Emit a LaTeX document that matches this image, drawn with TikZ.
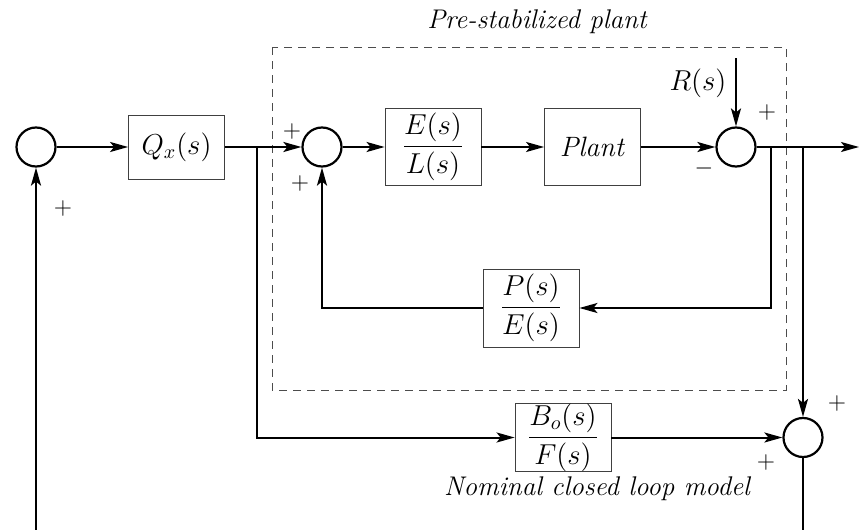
\documentclass[tikz,border=0pt]{standalone}
\usepackage{amsmath}
\usepackage{tikz}
\usetikzlibrary{arrows.meta, positioning, calc}

\begin{document}
\begin{tikzpicture}[
  x=0.5pt, y=-0.5pt,
  font=\fontsize{14}{17}\selectfont,
  box/.style={draw=black!75, minimum width=48pt, align=center, inner sep=1pt},
  sumnode/.style={draw, circle, line width=1.1pt, minimum size=19.5pt, inner sep=0pt},
  arrow/.style={-{Stealth[length=9pt, width=5pt, inset=2pt]}, line width=1pt},
  frame/.style={draw=black!70, dashed, dash pattern=on 4pt off 3pt, line width=0.5pt},
  title/.style={font=\fontsize{13.5}{16}\selectfont\itshape},
  sign/.style={inner sep=0pt, font=\fontsize{13}{15}\selectfont}
]
  \useasboundingbox (0,0) rectangle (859,530);

  % pre-stabilized plant frame
  \draw[frame] (272,47) rectangle (786,390);
  \node[title] (pretitle) at (537,22) {Pre-stabilized plant};

  \node[sumnode] (sumin) at (36,147) {};
  \node[box, minimum height=32pt] (qx) at (176.5,147) {$Q_x(s)$};
  \node[sumnode] (suminner) at (322,147) {};
  \node[box, minimum height=38.5pt] (el) at (433,147) {$\dfrac{E(s)}{L(s)}$};
  \node[box, minimum height=38.5pt] (plant) at (592.5,147) {\textit{Plant}};
  \node[sumnode] (sumdist) at (736,147) {};
  \node[box, minimum height=39pt] (pe) at (531,308) {$\dfrac{P(s)}{E(s)}$};
  \node[sumnode] (sumout) at (803,437.5) {};
  \node[box, minimum height=32.5pt, inner sep=0pt] (bf) at (563,437.5) {$\dfrac{B_o(s)}{F(s)}$};
  \node[title] (nomtitle) at (597,489) {Nominal closed loop model};

  % free ends of connectors
  \coordinate (rin) at (736,58);
  \coordinate (yout) at (859,147);
  \coordinate (fbtap) at (771,147);
  \coordinate (ytap) at (803,147);
  \coordinate (qtap) at (257,147);
  \coordinate (yend) at (803,530);
  \coordinate (fbend) at (36,530);

  \draw[arrow] (sumin) -- (qx);
  \draw[arrow] (qx) -- (suminner);
  \draw[arrow] (suminner) -- (el);
  \draw[arrow] (el) -- (plant);
  \draw[arrow] (plant) -- (sumdist);
  \draw[arrow] (rin) -- (sumdist);
  \draw[arrow] (sumdist) -- (yout);
  \draw[arrow] (fbtap) |- (pe);
  \draw[arrow] (pe) -| (suminner);
  \draw[arrow] (ytap) -- (sumout);
  \draw[arrow] (qtap) |- (bf);
  \draw[arrow] (bf) -- (sumout);
  \draw[line width=1pt] (sumout) -- (yend);
  \draw[arrow] (fbend) -- (sumin);

  % labels
  \node (rlabel) at (698,83) {$R(s)$};
  \node[sign] (p1) at (63,208) {$+$};
  \node[sign] (p2) at (292,131) {$+$};
  \node[sign] (p3) at (300,183) {$+$};
  \node[sign] (p4) at (767,113) {$+$};
  \node[sign] (m1) at (704,168) {$-$};
  \node[sign] (p5) at (837,403) {$+$};
  \node[sign] (p6) at (766,462) {$+$};
\end{tikzpicture}
\end{document}
